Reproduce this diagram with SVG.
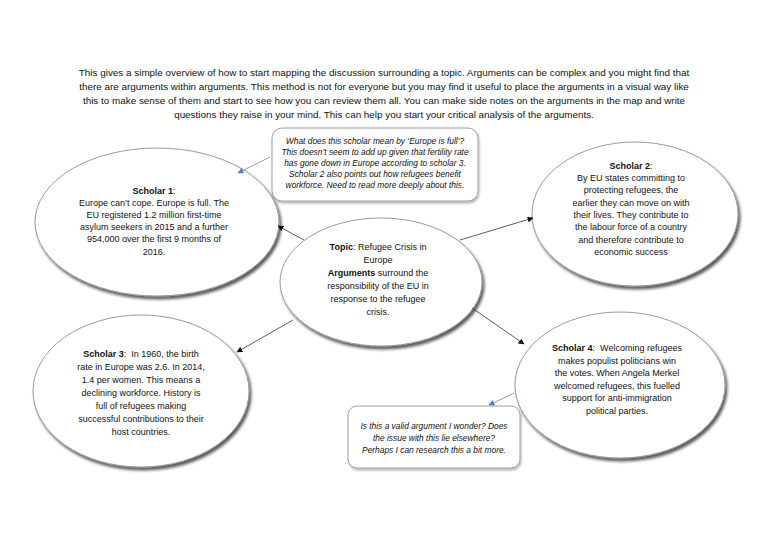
<svg xmlns="http://www.w3.org/2000/svg" width="768" height="543" viewBox="0 0 768 543">
<style>
.intro{font-family:"Liberation Sans",Arial,sans-serif;font-size:9.9px;fill:#111;text-anchor:middle}
.body{font-family:"Liberation Sans",Arial,sans-serif;font-size:9px;fill:#111;text-anchor:middle}
.note{font-family:"Liberation Sans",Arial,sans-serif;font-size:8.4px;font-style:italic;fill:#111;text-anchor:middle}
.b{font-weight:bold}
.ell{fill:#fff;stroke:#9a9a9a;stroke-width:1;filter:url(#sh)}
.box{fill:#fff;stroke:#a0a0a0;stroke-width:1;filter:url(#sh2)}
.con{stroke:#333;stroke-width:0.8;fill:none;marker-end:url(#ah)}
.blue{stroke:#5b8bd0;stroke-width:0.8;fill:none;marker-end:url(#ahb)}
</style>
<defs>
<filter id="sh" x="-20%" y="-20%" width="140%" height="150%">
<feGaussianBlur in="SourceAlpha" stdDeviation="1.5"/>
<feOffset dx="2" dy="3" result="o"/>
<feComponentTransfer><feFuncA type="linear" slope="0.65"/></feComponentTransfer>
<feMerge><feMergeNode/><feMergeNode in="SourceGraphic"/></feMerge>
</filter>
<filter id="sh2" x="-10%" y="-10%" width="120%" height="130%">
<feGaussianBlur in="SourceAlpha" stdDeviation="1"/>
<feOffset dx="1" dy="1.5"/>
<feComponentTransfer><feFuncA type="linear" slope="0.3"/></feComponentTransfer>
<feMerge><feMergeNode/><feMergeNode in="SourceGraphic"/></feMerge>
</filter>
<marker id="ah" viewBox="0 0 10 10" refX="9" refY="5" markerWidth="6" markerHeight="6" orient="auto-start-reverse" markerUnits="userSpaceOnUse"><path d="M0,0 L10,5 L0,10 z" fill="#111"/></marker>
<marker id="ahb" viewBox="0 0 10 10" refX="9" refY="5" markerWidth="6" markerHeight="6" orient="auto-start-reverse" markerUnits="userSpaceOnUse"><path d="M0,0 L10,5 L0,10 z" fill="#4a7fd0"/></marker>
</defs>
<rect width="768" height="543" fill="#fff"/>
<g id="intro" class="intro">
<text x="384" y="76">This gives a simple overview of how to start mapping the discussion surrounding a topic. Arguments can be complex and you might find that</text>
<text x="384" y="90">there are arguments within arguments. This method is not for everyone but you may find it useful to place the arguments in a visual way like</text>
<text x="384" y="104">this to make sense of them and start to see how you can review them all. You can make side notes on the arguments in the map and write</text>
<text x="384" y="118">questions they raise in your mind. This can help you start your critical analysis of the arguments.</text>
</g>
<g id="note1">
<rect class="box" x="272" y="128" width="206" height="73" rx="10"/>
<g class="note">
<text x="375" y="144">What does this scholar mean by ‘Europe is full’?</text>
<text x="375" y="155">This doesn’t seem to add up given that fertility rate</text>
<text x="375" y="166">has gone down in Europe according to scholar 3.</text>
<text x="375" y="177">Scholar 2 also points out how refugees benefit</text>
<text x="375" y="188">workforce. Need to read more deeply about this.</text>
</g>
</g>
<g id="scholar1">
<ellipse class="ell" cx="157" cy="222" rx="122" ry="74"/>
<g class="body">
<text x="154" y="194"><tspan class="b">Scholar 1</tspan>:</text>
<text x="154" y="206">Europe can’t cope. Europe is full. The</text>
<text x="154" y="218">EU registered 1.2 million first-time</text>
<text x="154" y="230">asylum seekers in 2015 and a further</text>
<text x="154" y="242">954,000 over the first 9 months of</text>
<text x="154" y="255">2016.</text>
</g>
</g>
<g id="scholar2">
<ellipse class="ell" cx="635" cy="214" rx="103" ry="72"/>
<g class="body">
<text x="631" y="169"><tspan class="b">Scholar 2</tspan>:</text>
<text x="631" y="181">By EU states committing to</text>
<text x="631" y="193">protecting refugees, the</text>
<text x="631" y="206">earlier they can move on with</text>
<text x="631" y="218">their lives. They contribute to</text>
<text x="631" y="230">the labour force of a country</text>
<text x="631" y="243">and therefore contribute to</text>
<text x="631" y="255">economic success</text>
</g>
</g>
<g id="topic">
<ellipse class="ell" cx="381" cy="282" rx="101" ry="64"/>
<g class="body">
<text x="378" y="250"><tspan class="b">Topic</tspan>: Refugee Crisis in</text>
<text x="378" y="263">Europe</text>
<text x="378" y="276"><tspan class="b">Arguments</tspan> surround the</text>
<text x="378" y="289">responsibility of the EU in</text>
<text x="378" y="302">response to the refugee</text>
<text x="378" y="315">crisis.</text>
</g>
</g>
<g id="scholar3">
<ellipse class="ell" cx="141" cy="391" rx="108" ry="76"/>
<g class="body">
<text x="141" y="357"><tspan class="b">Scholar 3</tspan>:&#160; In 1960, the birth</text>
<text x="141" y="370">rate in Europe was 2.6. In 2014,</text>
<text x="141" y="383">1.4 per women. This means a</text>
<text x="141" y="396">declining workforce. History is</text>
<text x="141" y="409">full of refugees making</text>
<text x="141" y="422">successful contributions to their</text>
<text x="141" y="435">host countries.</text>
</g>
</g>
<g id="scholar4">
<ellipse class="ell" cx="620" cy="385" rx="105" ry="73"/>
<g class="body">
<text x="617" y="351"><tspan class="b">Scholar 4</tspan>:&#160; Welcoming refugees</text>
<text x="617" y="364">makes populist politicians win</text>
<text x="617" y="376">the votes. When Angela Merkel</text>
<text x="617" y="389">welcomed refugees, this fuelled</text>
<text x="617" y="401">support for anti-immigration</text>
<text x="617" y="414">political parties.</text>
</g>
</g>
<g id="note2">
<rect class="box" x="348" y="406" width="172" height="62" rx="9"/>
<g class="note">
<text x="434" y="429">Is this a valid argument I wonder? Does</text>
<text x="434" y="441">the issue with this lie elsewhere?</text>
<text x="434" y="453">Perhaps I can research this a bit more.</text>
</g>
</g>
<g id="connectors">
<line class="con" x1="304" y1="240" x2="278" y2="226"/>
<line class="con" x1="460" y1="240" x2="533" y2="218"/>
<line class="con" x1="293" y1="320" x2="237" y2="352"/>
<line class="con" x1="472" y1="308" x2="524" y2="344"/>
<line class="blue" x1="270" y1="157" x2="238" y2="173"/>
<line class="blue" x1="514" y1="393" x2="489" y2="405"/>
</g>
</svg>
